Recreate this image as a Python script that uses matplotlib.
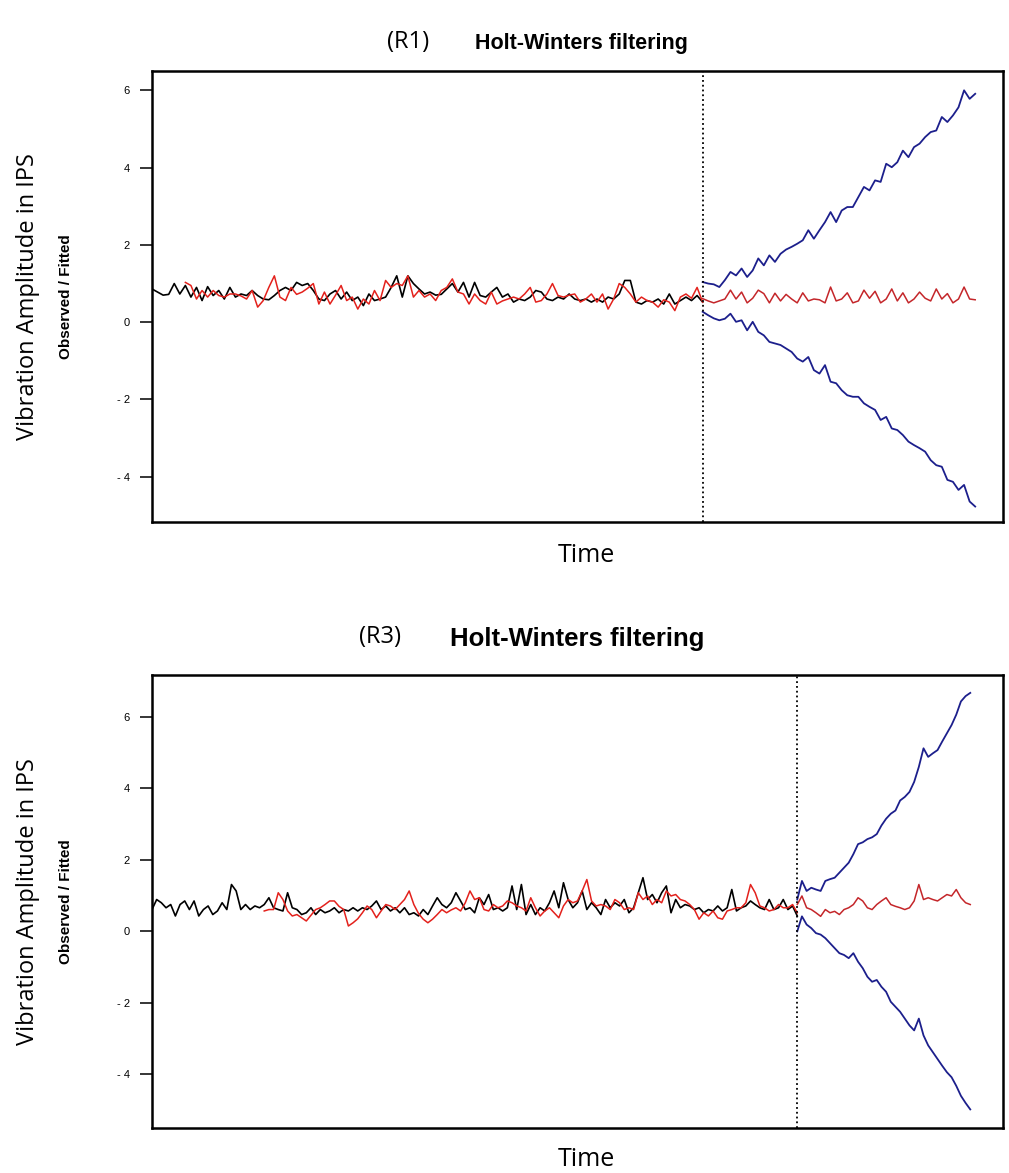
import matplotlib
matplotlib.use('Agg')
import matplotlib.pyplot as plt
import numpy as np

# ---- R1 panel ----
r1_observed = [
    0.86, 0.78, 0.7, 0.72, 1.0, 0.73, 0.95, 0.65, 0.9, 0.56,
    0.92, 0.69, 0.82, 0.6, 0.9, 0.65, 0.73, 0.69, 0.82, 0.69,
    0.6, 0.58, 0.69, 0.82, 0.9, 0.82, 1.03, 0.95, 1.0, 0.82,
    0.6, 0.56, 0.73, 0.82, 0.6, 0.78, 0.56, 0.65, 0.43, 0.73,
    0.56, 0.6, 0.65, 0.9, 1.2, 0.65, 1.2, 1.0, 0.86, 0.73,
    0.78, 0.7, 0.72, 0.86, 1.0, 0.78, 1.03, 0.65, 1.03, 0.69,
    0.65, 0.78, 0.9, 0.65, 0.73, 0.52, 0.6, 0.56, 0.65, 0.82,
    0.78, 0.6, 0.56, 0.65, 0.6, 0.73, 0.6, 0.56, 0.6, 0.52,
    0.6, 0.52, 0.65, 0.6, 0.73, 1.08, 1.08, 0.52, 0.47, 0.56,
    0.52, 0.6, 0.47, 0.73, 0.47, 0.56, 0.65, 0.56, 0.69, 0.52,
]
r1_fit_start = 6
r1_fitted = [
    1.03, 0.95, 0.6, 0.82, 0.65, 0.82, 0.69, 0.65, 0.73, 0.73,
    0.68, 0.6, 0.82, 0.39, 0.56, 0.9, 1.2, 0.65, 0.56, 0.9,
    0.72, 0.78, 0.88, 1.0, 0.47, 0.78, 0.47, 0.7, 0.95, 0.56,
    0.65, 0.34, 0.6, 0.47, 0.82, 0.56, 1.08, 0.9, 1.0, 0.95,
    1.2, 0.65, 0.82,
    0.65, 0.73, 0.56, 0.82, 0.9, 1.12, 0.78, 0.73, 0.47, 0.73,
    0.56, 0.47, 0.78, 0.47, 0.55, 0.6, 0.65, 0.6, 0.73, 0.9,
    0.52, 0.56, 0.73, 1.0, 0.69, 0.65, 0.7, 0.73, 0.52, 0.6,
    0.73, 0.52, 0.73, 0.34, 0.6, 1.0, 0.9, 0.73, 0.52, 0.65,
    0.56, 0.52, 0.39, 0.58, 0.52, 0.3, 0.65, 0.73, 0.62, 0.9,
    0.52,
]
r1_pred = [
    0.61, 0.55, 0.5, 0.55, 0.6, 0.83, 0.6, 0.78, 0.5, 0.62,
    0.83, 0.74, 0.5, 0.75, 0.55, 0.72, 0.6, 0.5, 0.76, 0.55,
    0.6, 0.58, 0.5, 0.91, 0.55, 0.6, 0.76, 0.5, 0.55, 0.83,
    0.62, 0.8, 0.5, 0.6, 0.86, 0.55, 0.76, 0.5, 0.6, 0.78,
    0.62, 0.55, 0.86, 0.6, 0.74, 0.5, 0.6, 0.91, 0.6, 0.58,
]
r1_upper = [
    1.04, 1.0, 0.98, 0.91, 1.09, 1.3, 1.21, 1.39, 1.17, 1.34,
    1.65, 1.47, 1.73, 1.56, 1.77, 1.88, 1.95, 2.03, 2.12, 2.38,
    2.16, 2.38, 2.59, 2.85, 2.59, 2.89, 2.98, 2.98, 3.24, 3.5,
    3.41, 3.67, 3.63, 4.1, 4.01, 4.14, 4.44, 4.27, 4.53, 4.62,
    4.79, 4.92, 4.96, 5.31, 5.18, 5.35, 5.56, 6.0, 5.78, 5.91,
]
r1_lower = [
    0.27, 0.18, 0.1, 0.05, 0.09, 0.22, 0.01, 0.05, -0.21, 0.01,
    -0.25, -0.34, -0.51, -0.55, -0.59, -0.68, -0.77, -0.94, -1.02, -0.9,
    -1.24, -1.33, -1.11, -1.54, -1.58, -1.76, -1.89, -1.93, -1.93, -2.1,
    -2.19, -2.27, -2.53, -2.45, -2.75, -2.79, -2.92, -3.09, -3.18, -3.26,
    -3.35, -3.57, -3.7, -3.74, -4.08, -4.13, -4.34, -4.21, -4.64, -4.77,
]

# ---- R3 panel ----
r3_observed = [
    0.61, 0.89, 0.8, 0.66, 0.75, 0.43, 0.75, 0.85, 0.61, 0.85,
    0.43, 0.61, 0.71, 0.47, 0.57, 0.8, 0.61, 1.31, 1.13, 0.61,
    0.75, 0.61, 0.71, 0.66, 0.75, 0.94, 0.66, 0.61, 0.57, 1.08,
    0.66, 0.61, 0.47, 0.52, 0.66, 0.47, 0.61, 0.52, 0.57, 0.66,
    0.52, 0.61, 0.57, 0.66, 0.57, 0.66, 0.61, 0.71, 0.85, 0.61,
    0.71, 0.57, 0.66, 0.52, 0.66, 0.47, 0.52, 0.43, 0.61, 0.47,
    0.71, 0.94, 0.75, 0.66, 0.8, 1.08, 0.85, 0.61, 0.66, 0.52,
    0.94, 0.75, 1.03, 0.61, 0.66, 0.57, 0.66, 1.27, 0.61, 1.31,
    0.47, 0.75, 0.47, 0.66, 0.57, 0.8, 1.13, 0.66, 1.36, 0.89,
    0.66, 0.8, 1.13, 0.61, 0.8, 0.66, 0.47, 0.89, 0.66, 0.8,
    0.71, 0.89, 0.52, 0.66, 1.08, 1.5, 0.89, 1.03, 0.8, 1.08,
    1.27, 0.52, 0.89, 0.66, 0.75, 0.71, 0.61, 0.66, 0.52, 0.61,
    0.57, 0.71, 0.57, 0.66, 1.17, 0.57, 0.66, 0.71, 0.85, 0.75,
    0.66, 0.61, 0.89, 0.61, 0.66, 0.89, 0.61, 0.71, 0.43,
]
r3_fit_start = 24
r3_fitted = [
    0.57, 0.61, 0.61, 1.08, 0.89, 0.57, 0.43, 0.47, 0.38, 0.29,
    0.45, 0.61, 0.66, 0.75, 0.85, 0.85, 0.7, 0.61, 0.15, 0.24,
    0.35, 0.52, 0.71, 0.61, 0.38, 0.57, 0.75, 0.71, 0.61, 0.75,
    0.89, 1.13, 0.75, 0.5, 0.34, 0.24, 0.34, 0.47, 0.61, 0.52,
    0.6, 0.66, 0.57, 0.8, 1.13, 0.89, 0.94, 0.61, 0.57,
    0.75, 0.66, 0.71, 0.85, 0.8, 0.71, 0.66, 0.57, 0.94, 0.66,
    0.43, 0.57, 0.66, 0.52, 0.38, 0.71, 0.89, 0.8, 0.85, 1.13,
    1.45, 0.85, 0.71, 0.75, 0.71, 0.61, 0.89, 0.8, 0.61, 0.66,
    0.61, 1.08, 0.89, 0.99, 0.75, 0.89, 0.8, 1.13, 0.99, 1.03,
    0.89, 0.85, 0.75, 0.61, 0.34, 0.52, 0.43, 0.57, 0.38, 0.34,
    0.57, 0.61, 0.66, 0.66, 0.8, 1.31, 1.08, 0.71, 0.66, 0.57,
    0.61, 0.75, 0.66, 0.66, 0.75, 0.52,
]
r3_pred = [
    0.75, 0.99, 0.66, 0.61, 0.52, 0.42, 0.61, 0.52, 0.56, 0.47,
    0.61, 0.66, 0.75, 0.94, 0.85, 0.66, 0.61, 0.75, 0.85, 0.94,
    0.75, 0.7, 0.66, 0.61, 0.66, 0.85, 1.31, 0.89, 0.94, 0.89,
    0.85, 0.94, 1.03, 0.99, 1.17, 0.94, 0.8, 0.75,
]
r3_upper = [
    0.89, 1.41, 1.13, 1.22, 1.17, 1.13, 1.41, 1.46, 1.5, 1.64,
    1.78, 1.92, 2.16, 2.44, 2.49, 2.58, 2.63, 2.72, 2.96, 3.15,
    3.29, 3.38, 3.66, 3.76, 3.9, 4.18, 4.6, 5.12, 4.88, 4.98,
    5.07, 5.31, 5.54, 5.77, 6.06, 6.43, 6.58, 6.67,
]
r3_lower = [
    0.0, 0.42, 0.19, 0.09, -0.05, -0.09, -0.19, -0.33, -0.47, -0.61,
    -0.66, -0.75, -0.61, -0.85, -1.03, -1.27, -1.41, -1.36, -1.55, -1.69,
    -1.97, -2.11, -2.25, -2.44, -2.63, -2.77, -2.44, -2.91, -3.19, -3.38,
    -3.57, -3.76, -3.94, -4.08, -4.32, -4.6, -4.8, -4.98,
]

yticks = [-4, -2, 0, 2, 4, 6]
ytick_labels = ['- 4', '- 2', '0', '2', '4', '6']

W, H = 1009, 1173
fig = plt.figure(figsize=(W / 100, H / 100), dpi=100)

R_FONT = ['Liberation Sans', 'DejaVu Sans']
UI_FONT = ['Open Sans', 'DejaVu Sans']


def draw_panel(ax, observed, fitted, fit_start, pred, upper, lower, ylim, xmax):
    n = len(observed)
    t_obs = np.arange(n)
    t_fit = np.arange(fit_start, fit_start + len(fitted))
    t_pred = np.arange(n - 1, n - 1 + len(pred))

    ax.plot(t_obs, observed, color='black', lw=1.2)
    ax.plot(t_fit, fitted, color='#e3211c', lw=1.1)
    ax.plot(t_pred, pred, color='#c4262a', lw=1.1)
    ax.plot(t_pred, upper, color='#1c1f8c', lw=1.3)
    ax.plot(t_pred, lower, color='#1c1f8c', lw=1.3)
    ax.axvline(n - 1, color='black', ls=':', lw=1.3)

    ax.set_xlim(0, xmax)
    ax.set_ylim(*ylim)
    ax.set_xticks([])
    ax.set_yticks(yticks)
    ax.set_yticklabels(ytick_labels, family=R_FONT, fontsize=8)
    ax.tick_params(axis='y', direction='out', length=9, width=1.1, pad=7)
    for s in ax.spines.values():
        s.set_linewidth(1.8)


def fx(px):
    return px / W


def fy(py):
    return 1 - py / H


ax1 = fig.add_axes([fx(152), fy(522), fx(1003) - fx(152), fy(71) - fy(522)])
draw_panel(ax1, r1_observed, r1_fitted, r1_fit_start, r1_pred, r1_upper, r1_lower,
           (-5.17, 6.5), 153)

ax2 = fig.add_axes([fx(152), fy(1128), fx(1003) - fx(152), fy(675) - fy(1128)])
draw_panel(ax2, r3_observed, r3_fitted, r3_fit_start, r3_pred, r3_upper, r3_lower,
           (-5.5, 7.17), 182)

# titles
fig.text(fx(408), fy(42), '(R1)', family=UI_FONT, fontsize=17, ha='center', va='center')
fig.text(fx(581), fy(44), 'Holt-Winters filtering', family=R_FONT, fontsize=15.5,
         fontweight='bold', ha='center', va='center')
fig.text(fx(380), fy(637), '(R3)', family=UI_FONT, fontsize=17, ha='center', va='center')
fig.text(fx(577), fy(639), 'Holt-Winters filtering', family=R_FONT, fontsize=18.5,
         fontweight='bold', ha='center', va='center')

# axis labels
for ytop, ybot, ytime in [(71, 522, 556), (675, 1128, 1160)]:
    yc = (ytop + ybot) / 2
    fig.text(fx(28), fy(yc), 'Vibration Amplitude in IPS', family=UI_FONT, fontsize=17,
             rotation=90, ha='center', va='center')
    fig.text(fx(66), fy(yc), 'Observed / Fitted', family=R_FONT, fontsize=11,
             fontweight='bold', rotation=90, ha='center', va='center')
    fig.text(fx(586), fy(ytime), 'Time', family=UI_FONT, fontsize=18,
             ha='center', va='center')

fig.savefig('out.png', dpi=100)
